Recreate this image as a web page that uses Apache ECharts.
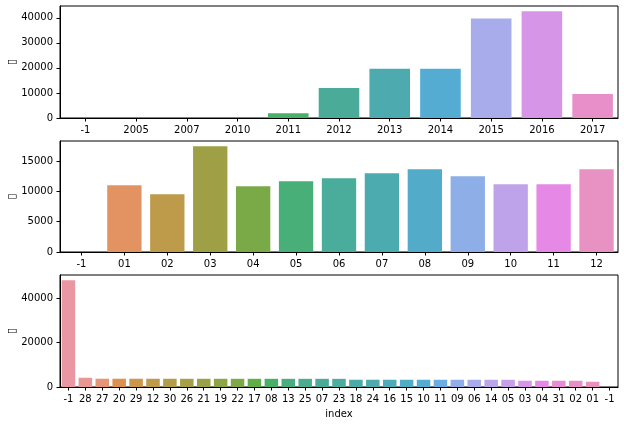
<!DOCTYPE html>
<html><head><meta charset="utf-8">
<script src="https://cdn.jsdelivr.net/npm/echarts@6/dist/echarts.min.js"></script>
<style>html,body{margin:0;padding:0;background:#fff}#c{width:624px;height:425px}</style>
</head><body><div id="c"></div>
<script>
// ---- data ----
const yearCats = ['-1','2005','2007','2010','2011','2012','2013','2014','2015','2016','2017'];
const yearVals = [2, 1, 2, 30, 1900, 11960, 19620, 19620, 39760, 42580, 9550];
const yearTicks = [0, 10000, 20000, 30000, 40000];

const monthCats = ['-1','01','02','03','04','05','06','07','08','09','10','11','12'];
const monthVals = [0, 11020, 9540, 17430, 10860, 11680, 12170, 12990, 13650, 12500, 11180, 11180, 13650];
const monthTicks = [0, 5000, 10000, 15000];

const dayCats = ['-1','28','27','20','29','12','30','26','21','19','22','17','08','13','25','07','23','18','24','16','15','10','11','09','06','14','05','03','04','31','02','01','-1'];
const dayVals = [48000, 4160, 3730, 3720, 3715, 3710, 3705, 3700, 3700, 3695, 3690, 3690, 3685, 3680, 3680, 3675, 3670, 3280, 3275, 3270, 3270, 3265, 3260, 3260, 3255, 3250, 3245, 2830, 2825, 2820, 2815, 2380, 0];
const dayTicks = [0, 20000, 40000];

const yName = '\u25AF';
const xName = 'index';

// ---- seaborn-like husl palette (categorical default: l=.7, desat .75) ----
const M = [[3.2406,-1.5372,-0.4986],[-0.9689,1.8758,0.0415],[0.0557,-0.2040,1.0570]];
const refU = 0.19784, refV = 0.46834;
function maxChroma(L, H) {
  const hr = H * Math.PI / 180, sinH = Math.sin(hr), cosH = Math.cos(hr);
  const sub1 = Math.pow(L + 16, 3) / 1560896;
  const sub2 = sub1 > 0.008856 ? sub1 : L / 903.3;
  let res = Infinity;
  for (const [m1, m2, m3] of M) {
    const top = (0.99915*m1 + 1.05122*m2 + 1.14460*m3) * sub2;
    const rb = 0.86330*m3 - 0.17266*m2;
    const lb = 0.12949*m3 - 0.38848*m1;
    const bottom = (rb*sinH + lb*cosH) * sub2;
    for (const t of [0, 1]) {
      const C = L * (top - 1.05122*t) / (bottom + 0.17266*sinH*t);
      if (C > 0 && C < res) res = C;
    }
  }
  return res;
}
function fromLinear(c) { return c <= 0.0031308 ? 12.92*c : 1.055*Math.pow(c, 1/2.4) - 0.055; }
function husl2rgb(H, S, L) {
  const C = maxChroma(L, H) / 100 * S;
  const hr = H * Math.PI / 180;
  const U = Math.cos(hr)*C, V = Math.sin(hr)*C;
  const t = (L + 16) / 116;
  const varY = Math.pow(t,3) > 0.008856 ? Math.pow(t,3) : (116*t - 16) / 903.3;
  const vU = U/(13*L) + refU, vV = V/(13*L) + refV;
  const Y = varY;
  const X = -(9*Y*vU) / ((vU - 4)*vV - vU*vV);
  const Z = (9*Y - 15*vV*Y - vV*X) / (3*vV);
  return M.map(r => Math.min(1, Math.max(0, fromLinear(r[0]*X + r[1]*Y + r[2]*Z))));
}
function rgb2hls(r,g,b){const mx=Math.max(r,g,b),mn=Math.min(r,g,b);const l=(mx+mn)/2;if(mx===mn)return[0,l,0];const s=l<=0.5?(mx-mn)/(mx+mn):(mx-mn)/(2-mx-mn);const rc=(mx-r)/(mx-mn),gc=(mx-g)/(mx-mn),bc=(mx-b)/(mx-mn);let h;if(r===mx)h=bc-gc;else if(g===mx)h=2+rc-bc;else h=4+gc-rc;h=((h/6)%1+1)%1;return[h,l,s];}
function _v(m1,m2,h){h=((h%1)+1)%1;if(h<1/6)return m1+(m2-m1)*h*6;if(h<0.5)return m2;if(h<2/3)return m1+(m2-m1)*(2/3-h)*6;return m1;}
function hls2rgb(h,l,s){if(s===0)return[l,l,l];const m2=l<=0.5?l*(1+s):l+s-l*s;const m1=2*l-m2;return[_v(m1,m2,h+1/3),_v(m1,m2,h),_v(m1,m2,h-1/3)];}
function palette(n) {
  const out = [];
  for (let i = 0; i < n; i++) {
    const h = ((i / n + 0.01) % 1) * 359;
    const rgb = husl2rgb(h, 0.9*99, 0.7*99);
    const [hh, ll, ss] = rgb2hls(...rgb);
    const c = hls2rgb(hh, ll, ss*0.75);
    out.push('rgb(' + c.map(v => Math.round(v*255)).join(',') + ')');
  }
  return out;
}

const font = {fontFamily: 'DejaVu Sans', fontSize: 10, color: '#000'};
const grids = [
  {left: 60, right: 6, top: 6, height: 112},
  {left: 60, right: 6, top: 141, height: 111},
  {left: 60, right: 6, top: 275, height: 112}
].map(g => Object.assign({show: true, borderColor: '#000', borderWidth: 1, backgroundColor: '#fff', containLabel: false, outerBoundsMode: 'none'}, g));

const sets = [[yearCats, yearVals, yearTicks], [monthCats, monthVals, monthTicks], [dayCats, dayVals, dayTicks]];
const xAxis = [], yAxis = [], series = [];
sets.forEach(([cats, vals, ticks], i) => {
  const pal = palette(cats.length);
  xAxis.push({
    type: 'category', gridIndex: i, data: cats, boundaryGap: true,
    axisLine: {show: true, lineStyle: {color: '#000', width: 1}},
    axisTick: {show: true, alignWithLabel: true, interval: 0, length: 3.5, lineStyle: {color: '#000'}},
    axisLabel: Object.assign({interval: 0, margin: 7}, font),
    name: i === 2 ? xName : '', nameLocation: 'middle', nameGap: 22, nameMoveOverlap: false,
    nameTextStyle: font
  });
  yAxis.push({
    type: 'value', gridIndex: i, min: 0, max: Math.max(...vals) * 1.05,
    splitLine: {show: false},
    axisLine: {show: true, lineStyle: {color: '#000', width: 1}},
    axisTick: {show: true, length: 3.5, lineStyle: {color: '#000'}, customValues: ticks},
    axisLabel: Object.assign({margin: 7, customValues: ticks, formatter: v => String(v)}, font),
    name: yName, nameLocation: 'middle', nameGap: 42, nameRotate: 90, nameMoveOverlap: false,
    nameTextStyle: Object.assign({}, font, {fontSize: 11})
  });
  series.push({
    type: 'bar', xAxisIndex: i, yAxisIndex: i, data: vals, barCategoryGap: '20%',
    itemStyle: {color: p => pal[p.dataIndex]}, silent: true
  });
});

const chart = echarts.init(document.getElementById('c'), null, {renderer: 'canvas'});
chart.setOption({animation: false, backgroundColor: '#fff', grid: grids, xAxis, yAxis, series});
</script></body></html>
